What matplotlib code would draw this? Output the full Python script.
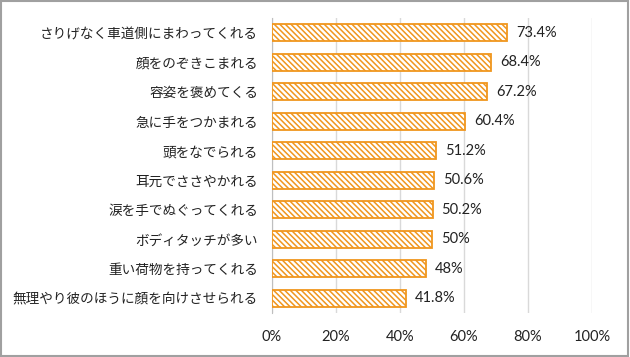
import matplotlib
matplotlib.use('Agg')
import matplotlib.pyplot as plt
from matplotlib.patches import Rectangle

plt.rcParams['font.family'] = ['Noto Sans CJK JP', 'DejaVu Sans']
plt.rcParams['hatch.linewidth'] = 1.1

labels = ['さりげなく車道側にまわってくれる', '顔をのぞきこまれる', '容姿を褒めてくる',
          '急に手をつかまれる', '頭をなでられる', '耳元でささやかれる',
          '涙を手でぬぐってくれる', 'ボディタッチが多い', '重い荷物を持ってくれる',
          '無理やり彼のほうに顔を向けさせられる']
values = [73.4, 68.4, 67.2, 60.4, 51.2, 50.6, 50.2, 50, 48, 41.8]
value_text = ['73.4%', '68.4%', '67.2%', '60.4%', '51.2%', '50.6%', '50.2%', '50%', '48%', '41.8%']
xticks = [0, 20, 40, 60, 80, 100]

orange = '#F0961E'

fig = plt.figure(figsize=(6.3, 3.57), dpi=100)
ax = fig.add_axes([272 / 630, 1 - 313 / 357, 320 / 630, 295 / 357])

pos = list(range(len(labels)))[::-1]
ax.barh(pos, values, height=0.58, color='white', edgecolor=orange,
        hatch='\\\\\\\\\\\\', linewidth=1.3, zorder=3)
for p, v, t in zip(pos, values, value_text):
    ax.text(v + 2.8, p, t, va='center', ha='left', fontsize=10.5, color='#222222',
            family=['Lato', 'DejaVu Sans'])

ax.set_xlim(0, 100)
ax.set_ylim(-0.5, len(labels) - 0.5)
ax.set_yticks(pos)
ax.set_yticklabels(labels, fontsize=9.8, color='#222222')
ax.set_xticks(xticks)
ax.set_xticklabels([f'{x}%' for x in xticks], fontsize=10.5, color='#222222',
                   family=['Lato', 'DejaVu Sans'])
ax.tick_params(length=0)
ax.tick_params(axis='x', pad=12)
ax.tick_params(axis='y', pad=10)
ax.grid(axis='x', color='#D9D9D9', linewidth=1, zorder=0)
for s in ['top', 'right', 'bottom']:
    ax.spines[s].set_visible(False)
ax.spines['left'].set_color('#BFBFBF')

fig.patches.append(Rectangle((0.002, 0.003), 0.995, 0.993, transform=fig.transFigure,
                             fill=False, edgecolor='#A0A0A0', linewidth=1.5))

fig.savefig('out.png', dpi=100)
